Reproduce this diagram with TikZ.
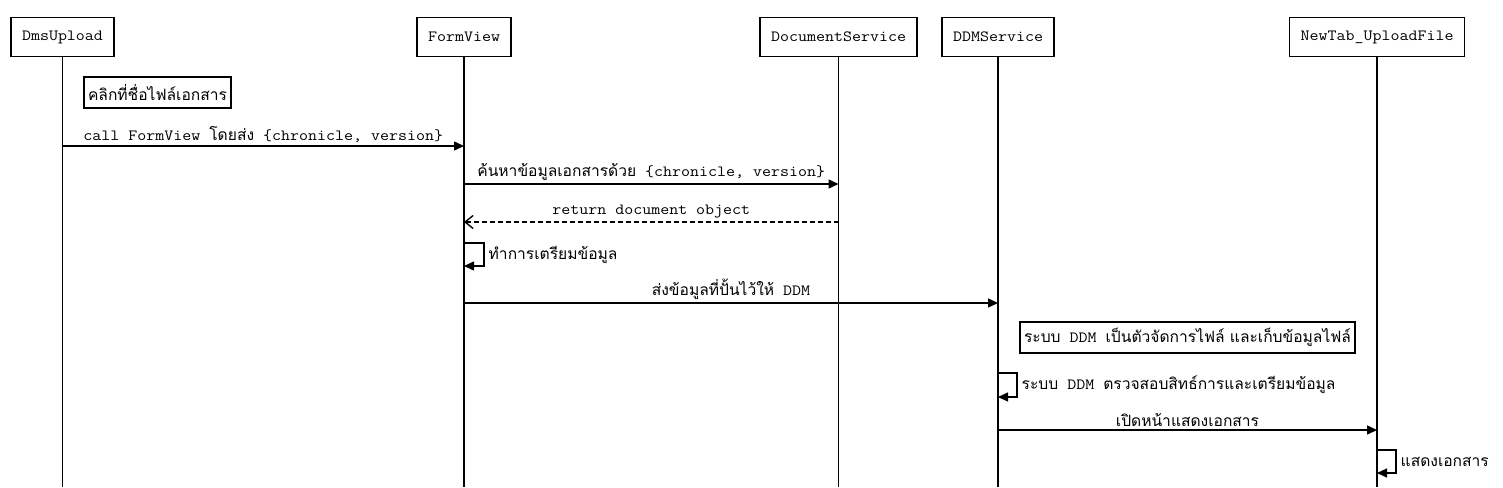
\documentclass[tikz,border=0pt]{standalone}
\usepackage{fontspec}
\setmainfont{Latin Modern Mono}[FakeStretch=1.12]
\newfontfamily\thaifont[Script=Thai]{Loma}
\newcommand{\thai}[1]{{\thaifont #1}}
\usetikzlibrary{arrows.meta,calc,positioning}

\begin{document}
\begin{tikzpicture}[x=1pt,y=-1pt,
    font=\fontsize{15.6}{18}\selectfont,
    actor/.style={rectangle,draw,line width=1.8pt,minimum height=39pt,inner xsep=11pt},
    note/.style={rectangle,draw,line width=1.8pt,minimum height=31pt,inner xsep=4pt},
    lifeline/.style={line width=1.8pt},
    message/.style={-{Triangle[length=10pt,width=9pt]},line width=1.4pt},
    reply/.style={-{Straight Barb[length=8pt,width=13pt]},line width=1.4pt,dash pattern=on 5pt off 3pt},
    msglabel/.style={above,inner sep=3pt}]
    \useasboundingbox (0,0) rectangle (1503,487);
    % Participants along the top
    \node (dms_upload) [actor] at (62.5,37) {DmsUpload};
    \node (form_view) [actor] at (464,37) {FormView};
    \node (document_service) [actor] at (838.5,37) {DocumentService};
    \node (ddm_service) [actor] at (998,37) {DDMService};
    \node (newtab_upload) [actor] at (1377,37) {NewTab\_UploadFile};

    % Lifelines run down to the bottom edge
    \foreach \p in {dms_upload,form_view,document_service,ddm_service,newtab_upload} {
      \coordinate (\p_end) at (\p.south |- 0,487);
      \draw[lifeline] (\p.south) -- (\p_end);
    }

    % Notes
    \node (click_note) [note] at (157.5,92.5) {\thai{คลิกที่ชื่อไฟล์เอกสาร}};
    \node (ddm_note) [note] at (1187.5,337.5) {\thai{ระบบ} DDM \thai{เป็นตัวจัดการไฟล์ และเก็บข้อมูลไฟล์}};

    % Messages
    \draw[message] (dms_upload |- 0,146) -- node[msglabel] {call FormView \thai{โดยส่ง} \{chronicle, version\}} (form_view |- 0,146);
    \draw[message] (form_view |- 0,184) -- node[msglabel] {\thai{ค้นหาข้อมูลเอกสารด้วย} \{chronicle, version\}} (document_service |- 0,184);
    \draw[reply] (document_service |- 0,222) -- node[msglabel] {return document object} (form_view |- 0,222);
    \draw[message] (form_view |- 0,243) -- ++(20,0) |- node[pos=0.25,right,inner sep=4pt] {\thai{ทำการเตรียมข้อมูล}} (form_view |- 0,266);
    \draw[message] (form_view |- 0,303) -- node[msglabel] {\thai{ส่งข้อมูลที่ปั้นไว้ให้} DDM} (ddm_service |- 0,303);
    \draw[message] (ddm_service |- 0,373) -- ++(19,0) |- node[pos=0.25,right,inner sep=4pt] {\thai{ระบบ} DDM \thai{ตรวจสอบสิทธ์การและเตรียมข้อมูล}} (ddm_service |- 0,397);
    \draw[message] (ddm_service |- 0,430) -- node[msglabel] {\thai{เปิดหน้าแสดงเอกสาร}} (newtab_upload |- 0,430);
    \draw[message] (newtab_upload |- 0,450) -- ++(19,0) |- node[pos=0.25,right,inner sep=4pt] {\thai{แสดงเอกสาร}} (newtab_upload |- 0,473);
  \end{tikzpicture}
\end{document}
